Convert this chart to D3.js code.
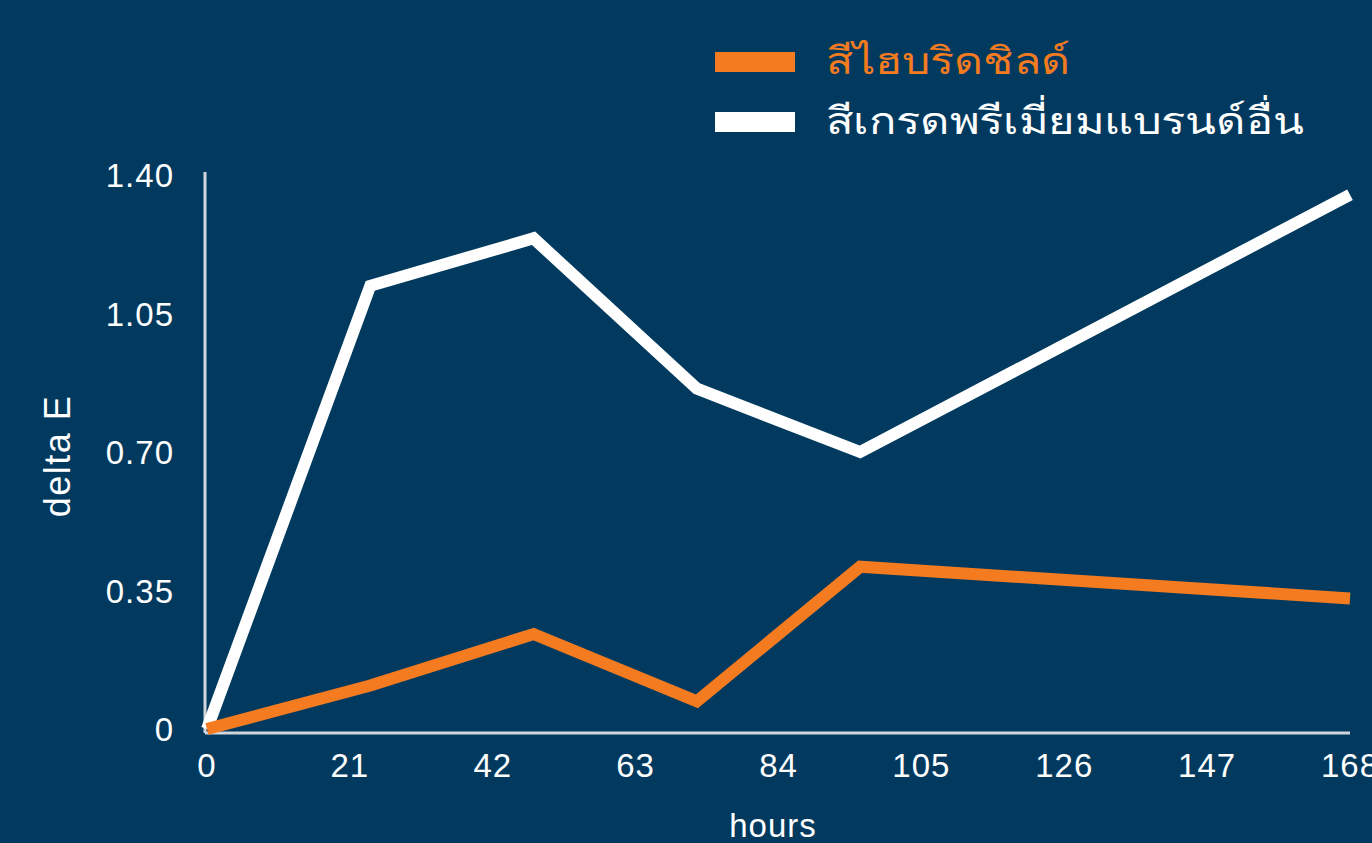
<!DOCTYPE html>
<html>
<head>
<meta charset="utf-8">
<script src="https://d3js.org/d3.v7.min.js"></script>
<style>
  body { margin: 0; background: #023a5f; }
  text { font-family: Helvetica, Arial, "Liberation Sans", "Noto Sans", sans-serif; fill: #fff; }
</style>
</head>
<body>
<div id="chart"></div>
<script>
var hours = [0, 24, 48, 72, 96, 168];
var hybridShield = [0, 0.11, 0.24, 0.07, 0.41, 0.33];
var premiumOther = [0, 1.12, 1.24, 0.86, 0.70, 1.35];
var xTicks = [0, 21, 42, 63, 84, 105, 126, 147, 168];
var yTicks = [0, 0.35, 0.70, 1.05, 1.40];
var seriesNames = ["สีไฮบริดชิลด์", "สีเกรดพรีเมี่ยมแบรนด์อื่น"];
var seriesColors = ["#f47b20", "#ffffff"];
var legendWidths = [244, 478];

(function () {
  var width = 1372, height = 843;

  var svg = d3.select("#chart").append("svg")
    .attr("width", width)
    .attr("height", height);

  svg.append("rect").attr("width", width).attr("height", height).attr("fill", "#023a5f");

  var x = d3.scaleLinear().domain([0, 168]).range([207, 1350]);
  var y = d3.scaleLinear().domain([0, 1.4]).range([729, 175]);

  // axis lines
  svg.append("line")
    .attr("x1", 205).attr("x2", 205).attr("y1", 172).attr("y2", 733)
    .attr("stroke", "#d0d6dc").attr("stroke-width", 3);
  svg.append("line")
    .attr("x1", 205).attr("x2", 1350).attr("y1", 733).attr("y2", 733)
    .attr("stroke", "#d0d6dc").attr("stroke-width", 3);

  svg.selectAll(".xt").data(xTicks).enter().append("text")
    .attr("class", "xt")
    .attr("x", function (d) { return x(d); })
    .attr("y", 777)
    .attr("text-anchor", "middle")
    .attr("font-size", 33)
    .attr("letter-spacing", 1)
    .text(function (d) { return d; });

  svg.selectAll(".yt").data(yTicks).enter().append("text")
    .attr("class", "yt")
    .attr("x", 174)
    .attr("y", function (d) { return y(d) + 12; })
    .attr("text-anchor", "end")
    .attr("font-size", 33)
    .attr("letter-spacing", 1)
    .text(function (d) { return d === 0 ? "0" : d.toFixed(2); });

  svg.append("text")
    .attr("transform", "translate(70,456) rotate(-90)")
    .attr("text-anchor", "middle")
    .attr("font-size", 36)
    .attr("letter-spacing", 1.5)
    .text("delta E");

  svg.append("text")
    .attr("x", 773).attr("y", 837)
    .attr("text-anchor", "middle")
    .attr("font-size", 33)
    .attr("letter-spacing", 1)
    .text("hours");

  var line = d3.line()
    .x(function (d) { return x(d[0]); })
    .y(function (d) { return y(d[1]); });

  var series = [hybridShield, premiumOther];
  [1, 0].forEach(function (i) {
    svg.append("path")
      .datum(hours.map(function (h, j) { return [h, series[i][j]]; }))
      .attr("fill", "none")
      .attr("stroke", seriesColors[i])
      .attr("stroke-width", 12)
      .attr("stroke-linejoin", "miter")
      .attr("d", line);
  });

  var legend = svg.selectAll(".leg").data(seriesNames).enter().append("g")
    .attr("class", "leg")
    .attr("transform", function (d, i) { return "translate(715," + (52 + i * 60) + ")"; });
  legend.append("rect")
    .attr("width", 80).attr("height", 20)
    .attr("fill", function (d, i) { return seriesColors[i]; });
  legend.append("text")
    .attr("x", 111).attr("y", 22)
    .attr("font-size", 38)
    .attr("textLength", function (d, i) { return legendWidths[i]; })
    .attr("lengthAdjust", "spacingAndGlyphs")
    .style("fill", function (d, i) { return seriesColors[i]; })
    .text(function (d) { return d; });
})();
</script>
</body>
</html>
